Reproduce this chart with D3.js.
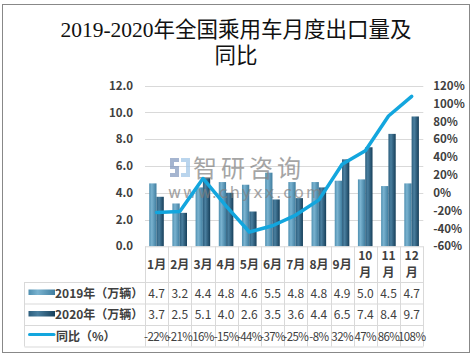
<!DOCTYPE html>
<html><head><meta charset="utf-8">
<script src="https://cdn.jsdelivr.net/npm/d3@7"></script>
<style>body{margin:0;background:#fff}svg{display:block}</style>
</head><body>
<script>
const months = ["1月","2月","3月","4月","5月","6月","7月","8月","9月","10月","11月","12月"];
const v2019 = [4.7,3.2,4.4,4.8,4.6,5.5,4.8,4.8,4.9,5.0,4.5,4.7];
const v2020 = [3.7,2.5,5.1,4.0,2.6,3.5,3.6,4.4,6.5,7.4,8.4,9.7];
const yoy = [-22,-21,16,-15,-44,-37,-25,-8,32,47,86,108];
const leftTicks = [0,2,4,6,8,10,12];
const rightTicks = [-60,-40,-20,0,20,40,60,80,100,120];
const seriesNames = ["2019年（万辆）","2020年（万辆）","同比（%）"];
const title1 = "2019-2020年全国乘用车月度出口量及";
const title2 = "同比";

const W=474,H=358;
const svg=d3.select("body").append("svg").attr("width",W).attr("height",H);
const defs=svg.append("defs");
function grad(id,c1,c2,c3){
  const g=defs.append("linearGradient").attr("id",id).attr("x1","0").attr("x2","1").attr("y1","0").attr("y2","0");
  g.append("stop").attr("offset","0").attr("stop-color",c1);
  g.append("stop").attr("offset","0.35").attr("stop-color",c2);
  g.append("stop").attr("offset","1").attr("stop-color",c3);
}
grad("g2019","#4f8fb0","#7ab3d0","#3f7d9f");
grad("g2020","#2c5e7d","#4a7f9f","#163f5a");

svg.append("rect").attr("x",2.5).attr("y",4.5).attr("width",467).attr("height",348)
  .attr("fill","#fff").attr("stroke","#888").attr("stroke-width",1);

const tf="'Liberation Serif','DejaVu Serif','Noto Sans CJK SC',serif";
svg.append("text").attr("x",236).attr("y",37).attr("text-anchor","middle")
  .attr("font-family",tf).attr("font-size",21.5).attr("fill","#111").text(title1);
svg.append("text").attr("x",236).attr("y",63).attr("text-anchor","middle")
  .attr("font-family",tf).attr("font-size",21.5).attr("fill","#111").text(title2);

const x0=145,x1=423.3,yTop=85.7,yBot=246.3;
const x=d3.scaleBand().domain(months).range([x0,x1]);
const xs=d3.scaleBand().domain(["2019","2020"]).range([4.2,18.8]);
const yL=d3.scaleLinear().domain([0,12]).range([yBot,yTop]);
const yR=d3.scaleLinear().domain([-60,120]).range([yBot,yTop]);
const f="'Noto Sans CJK SC','Noto Sans',sans-serif";
const tc="#404040";

// grid
svg.append("g").selectAll("line").data(leftTicks.filter(d=>d>0)).join("line")
  .attr("x1",x0).attr("x2",x1).attr("y1",d=>Math.round(yL(d))+0.5).attr("y2",d=>Math.round(yL(d))+0.5)
  .attr("stroke","#d9d9d9");

// left axis
const la=svg.append("g").attr("transform",`translate(${x0-12},0)`)
  .call(d3.axisLeft(yL).tickValues(leftTicks).tickFormat(d3.format(".1f")).tickSize(0).tickPadding(0));
la.select(".domain").remove();
la.selectAll("text").attr("font-family",f).attr("font-size",11.5).attr("font-weight","bold").attr("fill",tc);

// right axis
const ra=svg.append("g").attr("transform",`translate(${x1+10},0)`)
  .call(d3.axisRight(yR).tickValues(rightTicks).tickFormat(d=>d+"%").tickSize(0).tickPadding(0));
ra.select(".domain").remove();
ra.selectAll("text").attr("font-family",f).attr("font-size",11.5).attr("font-weight","bold").attr("fill",tc);

// bars
const bars=svg.append("g");
bars.selectAll(".b19").data(v2019).join("rect").attr("class","b19")
  .attr("x",(d,i)=>x(months[i])+xs("2019")).attr("width",xs.bandwidth())
  .attr("y",d=>yL(d)).attr("height",d=>yBot-yL(d)).attr("fill","url(#g2019)");
bars.selectAll(".b20").data(v2020).join("rect").attr("class","b20")
  .attr("x",(d,i)=>x(months[i])+xs("2020")).attr("width",xs.bandwidth())
  .attr("y",d=>yL(d)).attr("height",d=>yBot-yL(d)).attr("fill","url(#g2020)");

// watermark
const wm=svg.append("g").attr("opacity",0.7);
wm.append("path").attr("d","M170,158 h9 v4 h-5 v4 h5 v11 h-9 v-4 h5 v-4 h-5 z").attr("fill","#7f96bd");
wm.append("path").attr("d","M181,158 h9 v19 h-9 v-4 h5 v-11 h-5 z").attr("fill","#9ec4e6");
wm.append("text").attr("x",193).attr("y",176.5).attr("font-family",f).attr("font-size",24).attr("fill","#808080").attr("letter-spacing",4).text("智研咨询");
wm.append("text").attr("x",168).attr("y",198).attr("font-family","'DejaVu Sans',sans-serif").attr("font-size",16).attr("fill","#808080").attr("letter-spacing",2).text("www.chyxx.com");

// line
const line=d3.line().x((d,i)=>x(months[i])+x.bandwidth()/2).y(d=>yR(d));
svg.append("path").datum(yoy).attr("d",line).attr("fill","none")
  .attr("stroke","#13a6de").attr("stroke-width",3.5).attr("stroke-linejoin","round").attr("stroke-linecap","round");

// axis line
svg.append("line").attr("x1",x0).attr("x2",x1).attr("y1",yBot+0.5).attr("y2",yBot+0.5).attr("stroke","#d9d9d9");

// table
const rows=[282,303.5,325,346.5];
const tg=svg.append("g");
const gc="#d9d9d9";
rows.forEach(r=>tg.append("line").attr("x1",24.5).attr("x2",x1).attr("y1",r+0.5).attr("y2",r+0.5).attr("stroke",gc));
const edges=months.map(m=>x(m)).concat([x1]);
tg.selectAll(".vl").data(edges).join("line").attr("class","vl")
  .attr("x1",d=>Math.round(d)+0.5).attr("x2",d=>Math.round(d)+0.5).attr("y1",yBot).attr("y2",rows[3]).attr("stroke",gc);
tg.append("line").attr("x1",24.5).attr("x2",24.5).attr("y1",rows[0]).attr("y2",rows[3]).attr("stroke",gc);

months.forEach((m,i)=>{
  const cx=x(m)+x.bandwidth()/2;
  const t=(y,s)=>tg.append("text").attr("x",cx).attr("y",y).attr("text-anchor","middle").attr("font-family",f).attr("font-size",12).attr("font-weight","bold").attr("fill",tc).text(s);
  if(m.length>2){ t(260,m.slice(0,-1)); t(277,"月"); }
  else t(268.5,m);
});
const rowData=[v2019.map(d=>d.toFixed(1)),v2020.map(d=>d.toFixed(1)),yoy.map(d=>d+"%")];
rowData.forEach((arr,r)=>{
  const cy=(rows[r]+rows[r+1])/2+5;
  tg.selectAll(".r"+r).data(arr).join("text").attr("class","r"+r)
    .attr("x",(d,i)=>x(months[i])+x.bandwidth()/2).attr("y",cy).attr("text-anchor","middle")
    .attr("font-family",f).attr("font-size",r===2?11.5:12).attr("fill",tc)
    .attr("letter-spacing",r===2?-0.6:0).text(d=>d);
  tg.append("text").attr("x",r===2?56:55).attr("y",cy).attr("font-family",f).attr("font-size",12).attr("font-weight","bold").attr("fill",tc).text(seriesNames[r]);
});
tg.append("rect").attr("x",28.5).attr("y",289.5).attr("width",26.5).attr("height",5.5).attr("fill","url(#g2019)");
tg.append("rect").attr("x",28.5).attr("y",311).attr("width",26.5).attr("height",5.5).attr("fill","url(#g2020)");
tg.append("line").attr("x1",29.5).attr("x2",54).attr("y1",334.5).attr("y2",334.5).attr("stroke","#13a6de").attr("stroke-width",3).attr("stroke-linecap","round");
</script>
</body></html>
